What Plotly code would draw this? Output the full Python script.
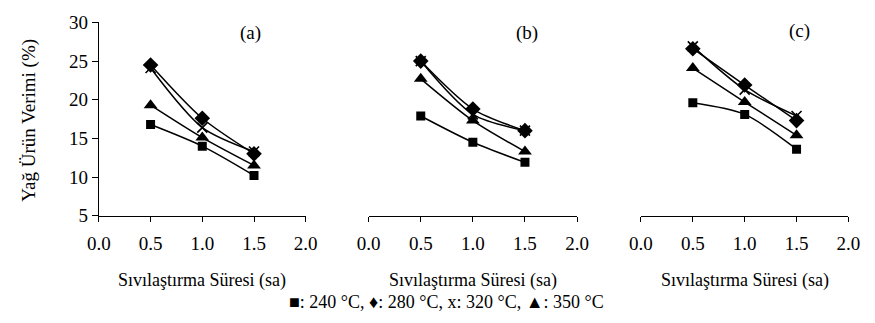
import plotly.graph_objects as go

W, H = 875, 323

time_h = [0.5, 1.0, 1.5]
series_names = ["240 °C", "280 °C", "320 °C", "350 °C"]

# Panel (a)
a_240 = [16.8, 14.0, 10.2]
a_280 = [24.5, 17.6, 13.0]
a_320 = [24.1, 16.4, 13.3]
a_350 = [19.3, 15.1, 11.5]
# Panel (b)
b_240 = [17.9, 14.5, 11.9]
b_280 = [25.0, 18.8, 16.0]
b_320 = [25.0, 18.1, 16.0]
b_350 = [22.7, 17.3, 13.3]
# Panel (c)
c_240 = [19.6, 18.1, 13.6]
c_280 = [26.6, 21.9, 17.3]
c_320 = [26.9, 21.3, 17.9]
c_350 = [24.1, 19.7, 15.4]

panel_labels = ["(a)", "(b)", "(c)"]
x_tickvals = [0.0, 0.5, 1.0, 1.5, 2.0]
x_ticktext = ["0.0", "0.5", "1.0", "1.5", "2.0"]
y_tickvals = [5, 10, 15, 20, 25, 30]

x_title = "Sıvılaştırma Süresi (sa)"
y_title = "Yağ Ürün Verimi (%)"
legend_text = "■: 240 °C, ♦: 280 °C, x: 320 °C, ▲: 350 °C"

FONT = "Times New Roman, Liberation Serif, serif"
FS = 19

# pixel layout
panel_px = [(89.3, 302.0), (366.7, 581.0), (646.7, 860.0)]
y_top_px, y_bot_px = 13.3, 220.0

fig = go.Figure()

panels = [
    (a_240, a_280, a_320, a_350),
    (b_240, b_280, b_320, b_350),
    (c_240, c_280, c_320, c_350),
]
marker_styles = [
    dict(symbol="square", size=9, color="black"),
    dict(symbol="diamond", size=12, color="black"),
    dict(symbol="x-thin", size=10, color="black", line=dict(color="black", width=1.6)),
    dict(symbol="triangle-up", size=12, color="black"),
]
draw_order = [3, 0, 2, 1]

for p, data in enumerate(panels):
    xa = "x" if p == 0 else f"x{p+1}"
    for k in draw_order:
        fig.add_trace(go.Scatter(
            x=time_h, y=data[k], xaxis=xa, yaxis="y",
            mode="lines+markers", name=series_names[k],
            line=dict(color="black", width=1.5, shape="spline", smoothing=0.8),
            marker=marker_styles[k], showlegend=False,
        ))

ydom = [1 - y_bot_px / H, 1 - y_top_px / H]
tickfont = dict(family=FONT, size=FS, color="black")
common_x = dict(
    range=[0, 2], tickvals=x_tickvals, ticktext=x_ticktext,
    showline=True, linecolor="black", linewidth=1.3,
    ticks="outside", ticklen=5, tickcolor="black", tickwidth=1.3,
    ticklabelstandoff=5,
    showgrid=False, zeroline=False, anchor="y", fixedrange=True,
    tickfont=tickfont,
)
layout = dict(
    width=W, height=H, margin=dict(l=0, r=0, t=0, b=0),
    plot_bgcolor="white", paper_bgcolor="white",
    font=dict(family=FONT, size=FS, color="black"),
    yaxis=dict(
        domain=ydom, range=[5, 30], tickvals=y_tickvals, anchor="x",
        showline=True, linecolor="black", linewidth=1.3,
        ticks="outside", ticklen=6, tickcolor="black", tickwidth=1.3,
        showgrid=False, zeroline=False, fixedrange=True,
        tickfont=tickfont,
    ),
)
for p, (l, r) in enumerate(panel_px):
    key = "xaxis" if p == 0 else f"xaxis{p+1}"
    layout[key] = dict(common_x, domain=[l / W, r / W])
fig.update_layout(**layout)

annotations = []
label_pos = [(245, 25), (530, 25), (810, 22)]
for lab, (px, py) in zip(panel_labels, label_pos):
    annotations.append(dict(x=px / W, y=1 - py / H, xref="paper", yref="paper",
                            text=lab, showarrow=False, xanchor="center", yanchor="middle",
                            font=dict(family=FONT, size=FS, color="black")))
for (l, r) in panel_px:
    annotations.append(dict(x=(l + r) / 2 / W, y=1 - 289 / H, xref="paper", yref="paper",
                            text=x_title, showarrow=False, xanchor="center", yanchor="middle",
                            font=dict(family=FONT, size=18, color="black")))
annotations.append(dict(x=18 / W, y=1 - 118 / H, xref="paper", yref="paper",
                        text=y_title, textangle=-90, showarrow=False,
                        xanchor="center", yanchor="middle",
                        font=dict(family=FONT, size=FS, color="black")))
annotations.append(dict(x=447 / W, y=1 - 312 / H, xref="paper", yref="paper",
                        text=legend_text, showarrow=False, xanchor="center", yanchor="middle",
                        font=dict(family=FONT, size=18, color="black")))
fig.update_layout(annotations=annotations)

fig.write_html("out.html")
